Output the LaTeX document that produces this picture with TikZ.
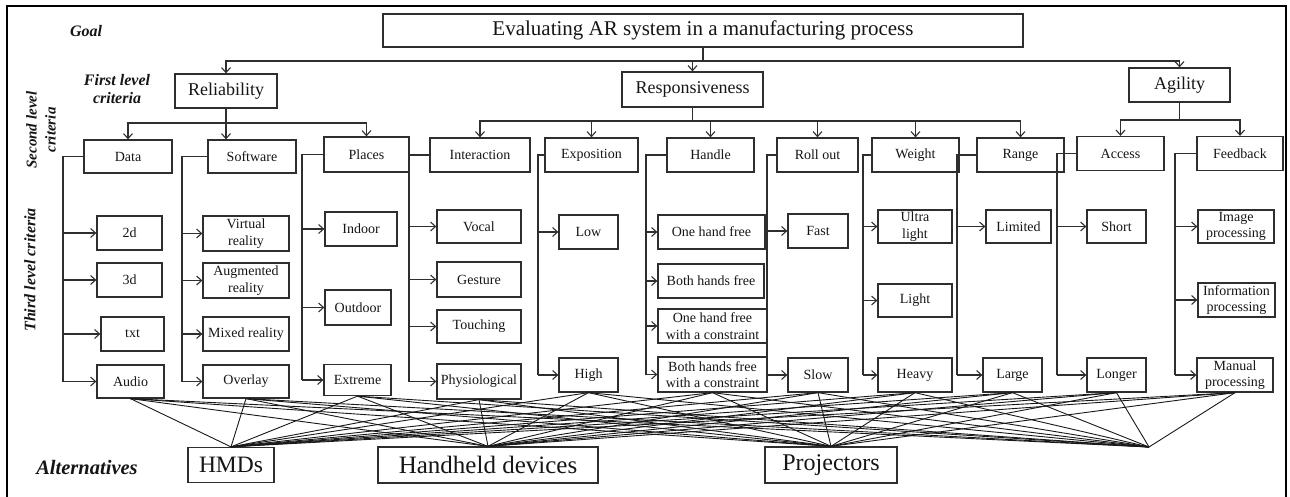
\documentclass[tikz,border=0pt]{standalone}
\usepackage{fontspec}
\setmainfont{Liberation Serif}
\usetikzlibrary{arrows.meta,positioning}
\definecolor{edge}{HTML}{2E2E2E}
\definecolor{ink}{HTML}{151515}

\begin{document}
\begin{tikzpicture}[x=1pt,y=-1pt,
    box/.style={draw=edge,line width=1.3pt,inner sep=1pt,align=center,text=ink,
      font=\fontsize{14}{16.5}\selectfont},
    sz/.style 2 args={minimum width=#1,minimum height=#2},
    levtag/.style={text=ink,align=center,
      font=\fontsize{16}{18}\selectfont\bfseries\itshape},
    link/.style={draw=edge,line width=1.1pt},
    arr/.style={link,-{Straight Barb[length=5pt,width=9pt]}},
    cross/.style={draw=black!90,line width=0.9pt}]
  \useasboundingbox (0,0) rectangle (1290,497);
  \draw[line width=2pt] (7,6) rectangle (1286,500);

  % level tags
  \node[levtag] (tgoal) at (86,31) {Goal};
  \node[levtag] (tfirst) at (117,89) {First level\\criteria};
  \node[levtag,rotate=90,font=\fontsize{15}{19}\selectfont\bfseries\itshape]
    (tsecond) at (41,130) {Second level\\criteria};
  \node[levtag,rotate=90] (tthird) at (30,270) {Third level criteria};
  \node[levtag,font=\fontsize{20.5}{22}\selectfont\bfseries\itshape]
    (talt) at (87,467) {Alternatives};

  % goal and first level
  \node[box,sz={640}{33},font=\fontsize{21}{24}\selectfont] (goal) at (703,30.5)
    {Evaluating AR system in a manufacturing process};
  \node[box,sz={102}{34},font=\fontsize{18}{20}\selectfont] (rel) at (226,91) {Reliability};
  \node[box,sz={141}{35},font=\fontsize{18}{20}\selectfont] (resp) at (692.5,89.5) {Responsiveness};
  \node[box,sz={101}{34},font=\fontsize{18}{20}\selectfont] (agil) at (1179.5,85) {Agility};

  % second level
  \node[box,sz={88}{33}] (data) at (128,156.5) {Data};
  \node[box,sz={88}{33}] (soft) at (252,156.5) {Software};
  \node[box,sz={85}{35}] (places) at (366.5,154.5) {Places};
  \node[box,sz={100}{34}] (inter) at (480,155) {Interaction};
  \node[box,sz={93}{34}] (expo) at (591.5,155) {Exposition};
  \node[box,sz={87}{34}] (handle) at (710.5,155) {Handle};
  \node[box,sz={81}{34}] (rollout) at (817.5,155) {Roll out};
  \node[box,sz={87}{34}] (weight) at (915.5,155) {Weight};
  \node[box,sz={87}{34}] (range) at (1020.5,155) {Range};
  \node[box,sz={87}{34}] (access) at (1120.5,153.5) {Access};
  \node[box,sz={86}{34}] (feedb) at (1240,153.5) {Feedback};

  % third level
  \node[box,sz={65}{34}] (d2) at (129.5,233) {2d};
  \node[box,sz={65}{34}] (d3) at (129.5,280) {3d};
  \node[box,sz={63}{34}] (txt) at (132.5,334) {txt};
  \node[box,sz={67}{33}] (audio) at (130.5,381.5) {Audio};
  \node[box,sz={86}{35}] (vr) at (246,233.5) {Virtual\\reality};
  \node[box,sz={86}{35}] (augr) at (246,280.5) {Augmented\\reality};
  \node[box,sz={86}{34}] (mixr) at (246,334) {Mixed reality};
  \node[box,sz={86}{33}] (overlay) at (246,381.5) {Overlay};
  \node[box,sz={72}{34}] (indoor) at (361,229) {Indoor};
  \node[box,sz={66}{35}] (outdoor) at (358,307.5) {Outdoor};
  \node[box,sz={67}{31}] (extreme) at (357.5,380) {Extreme};
  \node[box,sz={84}{33}] (vocal) at (479,226.5) {Vocal};
  \node[box,sz={84}{35}] (gesture) at (479,279.5) {Gesture};
  \node[box,sz={84}{33}] (touching) at (479,326.5) {Touching};
  \node[box,sz={84}{35}] (physio) at (479,381.5) {Physiological};
  \node[box,sz={59}{34}] (low) at (588.5,232) {Low};
  \node[box,sz={59}{34}] (high) at (588.5,375) {High};
  \node[box,sz={107}{34}] (ohf) at (711.5,232) {One hand free};
  \node[box,sz={106}{34}] (bhf) at (711,281) {Both hands free};
  \node[box,sz={109}{34}] (ohfc) at (712.5,326) {One hand free\\with a constraint};
  \node[box,sz={109}{35}] (bhfc) at (712.5,374.5) {Both hands free\\with a constraint};
  \node[box,sz={60}{34}] (fast) at (818,231) {Fast};
  \node[box,sz={60}{34}] (slow) at (818,375) {Slow};
  \node[box,sz={74}{33}] (ulight) at (915,226.5) {Ultra\\light};
  \node[box,sz={74}{33}] (light) at (915,300.5) {Light};
  \node[box,sz={74}{34}] (heavy) at (915,375) {Heavy};
  \node[box,sz={65}{33}] (limited) at (1018.5,226.5) {Limited};
  \node[box,sz={59}{34}] (large) at (1012.5,375) {Large};
  \node[box,sz={59}{33}] (short) at (1116.5,226.5) {Short};
  \node[box,sz={59}{34}] (longer) at (1116.5,375) {Longer};
  \node[box,sz={76}{33}] (imgp) at (1236,226.5) {Image\\processing};
  \node[box,sz={77}{34}] (infop) at (1236.5,300) {Information\\processing};
  \node[box,sz={76}{34}] (manp) at (1235,375) {Manual\\processing};

  % alternatives
  \node[box,sz={86}{35},font=\fontsize{23.5}{26}\selectfont] (hmd) at (231,465) {HMDs};
  \node[box,sz={220}{36},font=\fontsize{25}{27}\selectfont] (hand) at (488,465) {Handheld devices};
  \node[box,sz={132}{36},font=\fontsize{24}{26}\selectfont] (proj) at (831,465) {Projectors};
  \coordinate (pfour) at (1149,447);

  % goal -> first level
  \coordinate (gj) at (703,61);
  \draw[link] (goal.south) -- (gj);
  \draw[arr] (gj) -| (rel.north);
  \draw[arr] (gj) -| (agil.north);
  \draw[arr] (gj -| resp.north) -- (resp.north);

  % first level -> second level
  \coordinate (rj) at (226,123);
  \draw[link] (rel.south) -- (rj);
  \draw[arr] (rj) -| (data.north);
  \draw[arr] (rj) -- (rj |- soft.north);
  \draw[arr] (rj) -| (places.north);
  \coordinate (sj) at (692.5,121);
  \draw[link] (resp.south) -- (sj);
  \foreach \c in {inter,expo,handle,rollout,weight,range}
    \draw[arr] (sj) -| (\c.north);
  \coordinate (aj) at (1179.5,120);
  \draw[link] (agil.south) -- (aj);
  \foreach \c in {access,feedb}
    \draw[arr] (aj) -| (\c.north);

  % second level -> third level (buses on the left)
  \foreach \p/\bx/\last/\kids in {
      data/63/audio/{d2,d3,txt,audio},
      soft/182/overlay/{vr,augr,mixr,overlay},
      places/302/extreme/{indoor,outdoor,extreme},
      inter/409/physio/{vocal,gesture,touching,physio},
      expo/538/high/{low,high},
      handle/646/bhfc/{ohf,bhf,ohfc,bhfc},
      rollout/767/slow/{fast,slow},
      weight/863/heavy/{ulight,light,heavy},
      range/957/large/{limited,large},
      access/1057/longer/{short,longer},
      feedb/1175/manp/{imgp,infop,manp}} {
    \coordinate (b\p) at (\bx,0);
    \draw[link] (\p.west) -- (\p.west -| b\p) -- (b\p |- \last.west);
    \foreach \k in \kids
      \draw[arr] (b\p |- \k.west) -- (\k.west);
  }

  % third level -> alternatives
  \foreach \b in {audio,overlay,extreme,physio,high,bhfc,slow,heavy,large,longer,manp}
    \foreach \a in {hmd.north,hand.north,proj.north,pfour}
      \draw[cross] (\b.south) -- (\a);
\end{tikzpicture}
\end{document}
